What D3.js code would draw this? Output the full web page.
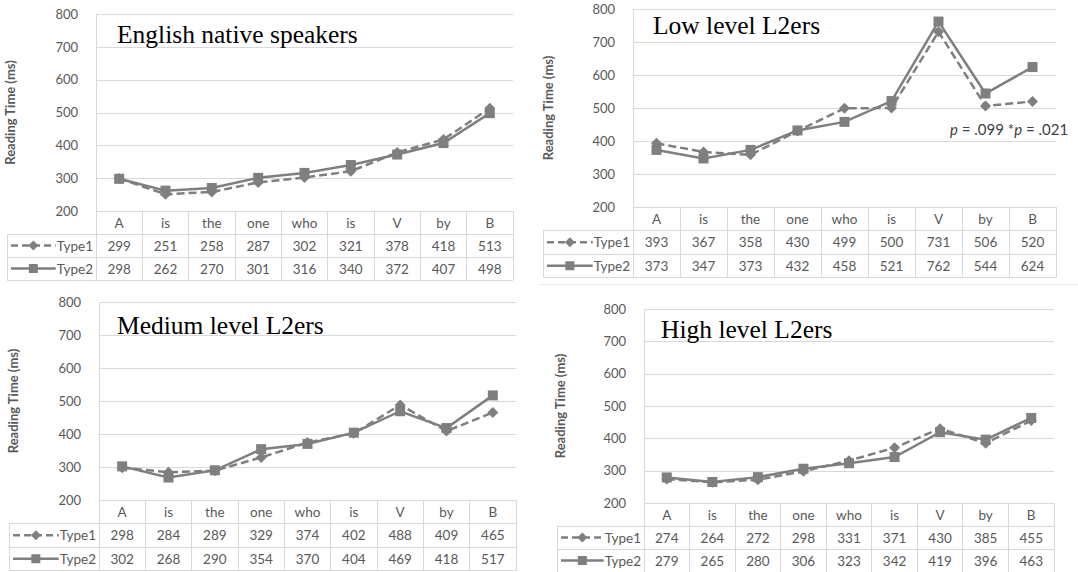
<!DOCTYPE html>
<html>
<head>
<meta charset="utf-8">
<script src="https://cdn.jsdelivr.net/npm/d3@7"></script>
<style>
  body { margin: 0; background: #fff; }
  svg { display: block; }
</style>
</head>
<body>
<div id="chart"></div>
<script>
/* Reading times by region, four groups of readers */

const categories = ["A", "is", "the", "one", "who", "is", "V", "by", "B"];
const seriesNames = ["Type1", "Type2"];
const yTicks = [200, 300, 400, 500, 600, 700, 800];

const englishType1 = [299, 251, 258, 287, 302, 321, 378, 418, 513];
const englishType2 = [298, 262, 270, 301, 316, 340, 372, 407, 498];
const lowType1 = [393, 367, 358, 430, 499, 500, 731, 506, 520];
const lowType2 = [373, 347, 373, 432, 458, 521, 762, 544, 624];
const mediumType1 = [298, 284, 289, 329, 374, 402, 488, 409, 465];
const mediumType2 = [302, 268, 290, 354, 370, 404, 469, 418, 517];
const highType1 = [274, 264, 272, 298, 331, 371, 430, 385, 455];
const highType2 = [279, 265, 280, 306, 323, 342, 419, 396, 463];

const groupTitles = ["English native speakers", "Low level L2ers", "Medium level L2ers", "High level L2ers"];

const width = 1078,
      height = 572,
      lineColor = "#7f7f7f",
      gridColor = "#d9d9d9",
      textColor = "#595959",
      sans = "Lato, 'Open Sans', sans-serif";

// where each panel sits on the page (plot left/right, 800 line, 200 line, table left, row height)
const panels = [
    { title: groupTitles[0], t1: englishType1, t2: englishType2,
      left: 96, right: 513, top: 14, bottom: 211, tableLeft: 7, rowH: 23, axisX: 15, titleX: 117, titleY: 43 },
    { title: groupTitles[1], t1: lowType1, t2: lowType2,
      left: 633, right: 1056, top: 9, bottom: 207, tableLeft: 543, rowH: 23.5, axisX: 553, titleX: 653, titleY: 34 },
    { title: groupTitles[2], t1: mediumType1, t2: mediumType2,
      left: 99, right: 516, top: 302, bottom: 500, tableLeft: 9, rowH: 23.5, axisX: 18, titleX: 117, titleY: 334 },
    { title: groupTitles[3], t1: highType1, t2: highType2,
      left: 644, right: 1054, top: 309, bottom: 503, tableLeft: 557, rowH: 23, axisX: 565, titleX: 661, titleY: 338 }
];

let svg = d3.select("#chart")
    .append("svg")
    .attr("width", width)
    .attr("height", height);

// faint frame line under the low level chart
svg.append("line")
    .attr("x1", 538).attr("x2", width)
    .attr("y1", 284.5).attr("y2", 284.5)
    .attr("stroke", "#ececec");

function diamond(g, cx, cy, r) {
    g.append("path")
        .attr("d", `M${cx},${cy - r}L${cx + r},${cy}L${cx},${cy + r}L${cx - r},${cy}Z`)
        .attr("fill", lineColor);
}

function square(g, cx, cy, s) {
    g.append("rect")
        .attr("x", cx - s / 2).attr("y", cy - s / 2)
        .attr("width", s).attr("height", s)
        .attr("fill", lineColor);
}

panels.forEach((p, i) => {
    let g = svg.append("g");

    let x = d3.scaleBand()
        .domain(d3.range(categories.length))
        .range([p.left, p.right]);

    let y = d3.scaleLinear()
        .domain([200, 800])
        .range([p.bottom, p.top]);

    const cx = j => x(j) + x.bandwidth() / 2;
    const tableBottom = p.bottom + 3 * p.rowH;

    /* gridlines */
    g.append("g")
        .attr("transform", `translate(${p.left},0)`)
        .call(d3.axisLeft(y).tickValues(yTicks).tickSize(-(p.right - p.left)).tickFormat(""))
        .call(a => a.select(".domain").remove())
        .call(a => a.selectAll("line").attr("stroke", gridColor).attr("shape-rendering", "crispEdges"));

    /* y tick labels */
    g.append("g")
        .attr("transform", `translate(${p.left},0)`)
        .call(d3.axisLeft(y).tickValues(yTicks).tickSize(0).tickPadding(18))
        .call(a => a.select(".domain").remove())
        .call(a => a.selectAll("text")
            .attr("fill", textColor)
            .style("font-family", sans)
            .style("font-size", "13px"));

    /* axis title */
    g.append("text")
        .attr("transform", `translate(${p.axisX},${(p.top + p.bottom) / 2}) rotate(-90)`)
        .attr("text-anchor", "middle")
        .attr("fill", textColor)
        .style("font-family", sans)
        .style("font-weight", "bold")
        .style("font-size", "13px")
        .text("Reading Time (ms)");

    /* data table lines */
    let rows = [p.bottom + p.rowH, p.bottom + 2 * p.rowH, tableBottom];
    let tg = g.append("g")
        .attr("stroke", gridColor)
        .attr("shape-rendering", "crispEdges");
    rows.forEach(ry => {
        tg.append("line")
            .attr("x1", p.tableLeft).attr("x2", p.right)
            .attr("y1", ry).attr("y2", ry);
    });
    tg.append("line") // y axis line runs through table
        .attr("x1", p.left).attr("x2", p.left)
        .attr("y1", p.top).attr("y2", tableBottom);
    tg.append("line")
        .attr("x1", p.tableLeft).attr("x2", p.tableLeft)
        .attr("y1", rows[0]).attr("y2", tableBottom);
    tg.selectAll(".sep")
        .data(d3.range(1, categories.length + 1))
        .join("line")
        .attr("x1", j => j < categories.length ? x(j) : p.right)
        .attr("x2", j => j < categories.length ? x(j) : p.right)
        .attr("y1", p.bottom).attr("y2", tableBottom);

    /* table text */
    let tableRows = [categories, p.t1, p.t2];
    tableRows.forEach((vals, r) => {
        g.selectAll(null)
            .data(vals)
            .join("text")
            .attr("x", (d, j) => cx(j))
            .attr("y", p.bottom + r * p.rowH + p.rowH / 2 + 5)
            .attr("text-anchor", "middle")
            .attr("fill", textColor)
            .style("font-family", sans)
            .style("font-size", "13.5px")
            .text(d => d);
    });

    /* legend cells */
    seriesNames.forEach((name, r) => {
        let ry = p.bottom + (r + 1) * p.rowH + p.rowH / 2;
        let label = g.append("text")
            .attr("x", p.left - 3)
            .attr("y", ry + 5)
            .attr("text-anchor", "end")
            .attr("fill", textColor)
            .style("font-family", sans)
            .style("font-size", "13.5px")
            .text(name);
        let tx = p.left - 3 - label.node().getComputedTextLength() - 1;
        let lx0 = p.tableLeft + 4;
        g.append("line")
            .attr("x1", lx0).attr("x2", tx)
            .attr("y1", ry).attr("y2", ry)
            .attr("stroke", lineColor)
            .attr("stroke-width", 2.5)
            .attr("stroke-dasharray", r === 0 ? "7,4" : null);
        if (r === 0) diamond(g, (lx0 + tx) / 2, ry, 5);
        else square(g, (lx0 + tx) / 2, ry, 9);
    });

    /* lines and markers */
    let line = d3.line()
        .x((d, j) => cx(j))
        .y(d => y(d));

    g.append("path")
        .datum(p.t1)
        .attr("d", line)
        .attr("fill", "none")
        .attr("stroke", lineColor)
        .attr("stroke-width", 2.5)
        .attr("stroke-dasharray", "8,4");
    p.t1.forEach((v, j) => diamond(g, cx(j), y(v), 5.5));

    g.append("path")
        .datum(p.t2)
        .attr("d", line)
        .attr("fill", "none")
        .attr("stroke", lineColor)
        .attr("stroke-width", 2.5);
    p.t2.forEach((v, j) => square(g, cx(j), y(v), 10));

    /* panel title */
    g.append("text")
        .attr("x", p.titleX)
        .attr("y", p.titleY)
        .attr("fill", "#000")
        .style("font-family", "'Liberation Serif', 'Times New Roman', 'DejaVu Serif', serif")
        .style("font-size", "25.5px")
        .text(p.title);

    /* significance note on low level chart */
    if (i === 1) {
        let note = g.append("text")
            .attr("x", 950)
            .attr("y", y(400) - 6)
            .attr("fill", "#404040")
            .style("font-family", sans)
            .style("font-size", "15px");
        note.append("tspan").style("font-style", "italic").text("p");
        note.append("tspan").text(" = .099 *");
        note.append("tspan").style("font-style", "italic").text("p");
        note.append("tspan").text(" = .021");
    }
});
</script>
</body>
</html>
